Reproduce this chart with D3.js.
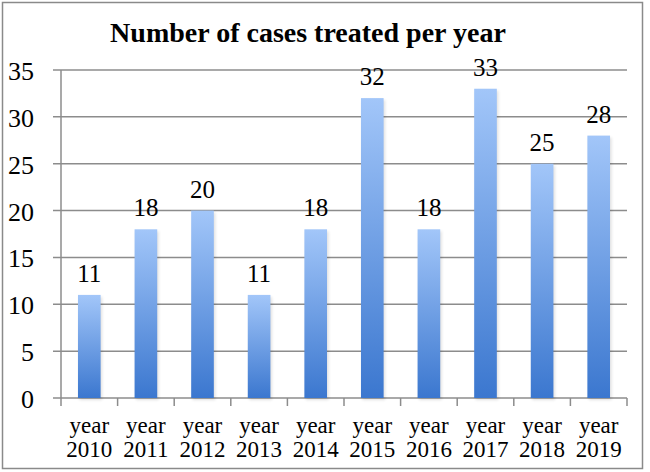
<!DOCTYPE html>
<html>
<head>
<meta charset="utf-8">
<script src="https://d3js.org/d3.v7.min.js"></script>
<style>
  body { margin: 0; background: #fff; }
  text { font-family: "Liberation Serif", "Times New Roman", serif; fill: #000; }
</style>
</head>
<body>
<div id="chart"></div>
<script>
// data
const categories = ['2010', '2011', '2012', '2013', '2014', '2015', '2016', '2017', '2018', '2019'];
const cases = [11, 18, 20, 11, 18, 32, 18, 33, 25, 28];
const yTicks = [0, 5, 10, 15, 20, 25, 30, 35];

const width = 650, height = 472;
const margin = { left: 61, right: 23, top: 70, bottom: 74 };

const svg = d3.select('#chart').append('svg')
    .attr('width', width)
    .attr('height', height);

// gradient for the bars, light on top
const grad = svg.append('defs').append('linearGradient')
    .attr('id', 'barGrad')
    .attr('x1', 0).attr('y1', 0).attr('x2', 0).attr('y2', 1);
grad.append('stop').attr('offset', '0%').attr('stop-color', '#a2c6f9');
grad.append('stop').attr('offset', '100%').attr('stop-color', '#3b77cf');

// outer frame
svg.append('rect')
    .attr('x', 2.5).attr('y', 2.5)
    .attr('width', 640).attr('height', 466)
    .attr('fill', 'none')
    .attr('stroke', '#8a8a8a')
    .attr('stroke-width', 1.5);

const x = d3.scaleBand()
    .domain(categories)
    .range([margin.left, width - margin.right])
    .paddingInner(0.6)
    .paddingOuter(0.3);

const y = d3.scaleLinear()
    .domain([0, 35])
    .range([height - margin.bottom, margin.top]);

// gridlines
svg.append('g')
    .selectAll('line')
    .data(yTicks)
    .join('line')
    .attr('x1', margin.left - 8)
    .attr('x2', width - margin.right)
    .attr('y1', d => y(d))
    .attr('y2', d => y(d))
    .attr('stroke', '#8c8c8c')
    .attr('stroke-width', 1.5);

// y axis labels
svg.append('g')
    .selectAll('text')
    .data(yTicks)
    .join('text')
    .attr('x', 34)
    .attr('y', d => y(d) + 10)
    .attr('text-anchor', 'end')
    .style('font-size', '26px')
    .text(d => d);

// y axis line
svg.append('line')
    .attr('x1', margin.left).attr('x2', margin.left)
    .attr('y1', y(35)).attr('y2', y(0))
    .attr('stroke', '#8c8c8c')
    .attr('stroke-width', 1.5);

// bottom tick marks between categories
const step = x.step();
const tickXs = d3.range(categories.length + 1).map(i => margin.left + i * step);
svg.append('g')
    .selectAll('line')
    .data(tickXs)
    .join('line')
    .attr('x1', d => d).attr('x2', d => d)
    .attr('y1', y(0)).attr('y2', y(0) + 8)
    .attr('stroke', '#8c8c8c')
    .attr('stroke-width', 1.5);

// bar shadows
svg.append('g')
    .selectAll('rect')
    .data(cases)
    .join('rect')
    .attr('x', (d, i) => x(categories[i]) + 1.5)
    .attr('y', d => y(d) + 2)
    .attr('width', x.bandwidth())
    .attr('height', d => y(0) - y(d))
    .attr('fill', '#000')
    .attr('opacity', 0.12)
    .style('filter', 'blur(1.5px)');

// bars
svg.append('g')
    .selectAll('rect')
    .data(cases)
    .join('rect')
    .attr('x', (d, i) => x(categories[i]))
    .attr('y', d => y(d))
    .attr('width', x.bandwidth())
    .attr('height', d => y(0) - y(d))
    .attr('fill', 'url(#barGrad)');

// value labels
svg.append('g')
    .selectAll('text')
    .data(cases)
    .join('text')
    .attr('x', (d, i) => x(categories[i]) + x.bandwidth() / 2)
    .attr('y', d => y(d) - 13)
    .attr('text-anchor', 'middle')
    .style('font-size', '25px')
    .text(d => d);

// category labels
const cat = svg.append('g')
    .selectAll('text')
    .data(categories)
    .join('text')
    .attr('text-anchor', 'middle')
    .style('font-size', '23px');
cat.append('tspan')
    .attr('x', d => x(d) + x.bandwidth() / 2)
    .attr('y', 433)
    .text('year');
cat.append('tspan')
    .attr('x', d => x(d) + x.bandwidth() / 2)
    .attr('y', 457)
    .text(d => d);

// title
svg.append('text')
    .attr('x', 308)
    .attr('y', 42)
    .attr('text-anchor', 'middle')
    .style('font-size', '28px')
    .style('font-weight', 'bold')
    .text('Number of cases treated per year');
</script>
</body>
</html>
